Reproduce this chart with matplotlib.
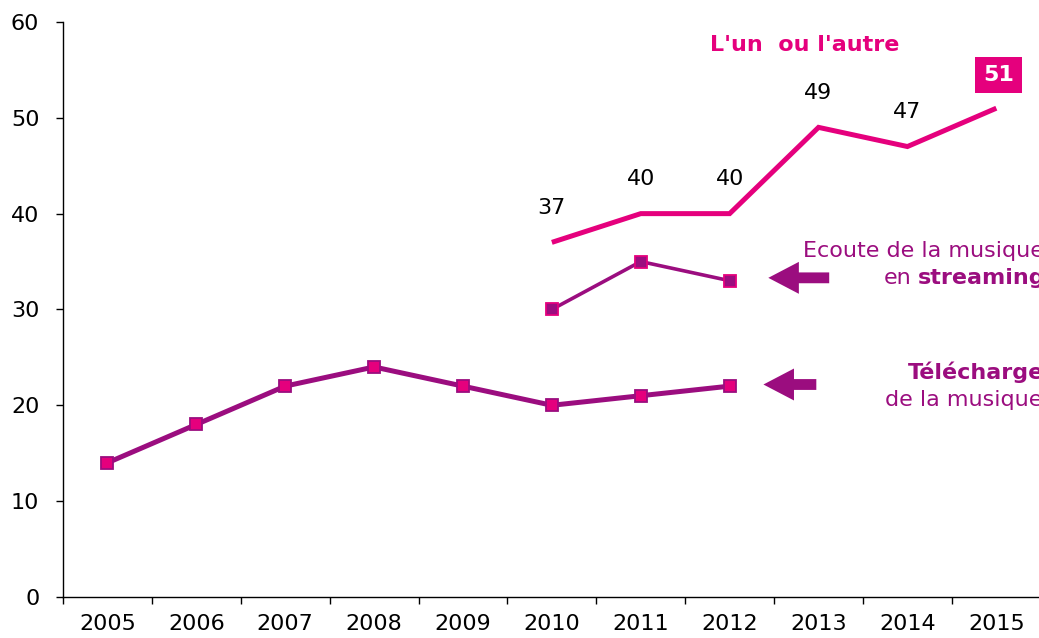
import matplotlib
matplotlib.use('Agg')
import matplotlib.pyplot as plt

PINK = '#E5007D'
PURPLE = '#9B0D7F'

years = ['2005', '2006', '2007', '2008', '2009', '2010',
         '2011', '2012', '2013', '2014', '2015']

# download series 2005-2012
telech_x = [0, 1, 2, 3, 4, 5, 6, 7]
telech = [14, 18, 22, 24, 22, 20, 21, 22]

# streaming series 2010-2012
stream_x = [5, 6, 7]
stream = [30, 35, 33]

# either one, 2010-2015
either_x = [5, 6, 7, 8, 9, 10]
either = [37, 40, 40, 49, 47, 51]

plt.rcParams['font.family'] = 'DejaVu Sans'

fig = plt.figure(figsize=(10.39, 6.38), dpi=100)
ax = fig.add_axes([0.0606, 0.0643, 0.9411, 0.9013])

ax.plot(either_x, either, color=PINK, linewidth=3.6, solid_capstyle='butt',
        solid_joinstyle='miter', zorder=3)
ax.plot(stream_x, stream, color=PURPLE, linewidth=2.6, marker='s',
        markersize=8.5, markerfacecolor=PURPLE, markeredgecolor=PINK,
        markeredgewidth=1.3, zorder=4)
ax.plot(telech_x, telech, color=PURPLE, linewidth=3.6, marker='s',
        markersize=8.5, markerfacecolor=PINK, markeredgecolor=PURPLE,
        markeredgewidth=1.3, zorder=4)

# value labels above the "either" line (last one in a box)
for x, v in zip(either_x[:-1], either[:-1]):
    ax.annotate(str(v), (x, v), xytext=(0, 25), textcoords='offset points',
                ha='center', va='center', fontsize=16, color='black')
ax.annotate(str(either[-1]), (either_x[-1], either[-1]), xytext=(1.5, 24),
            textcoords='offset points', ha='center', va='center',
            fontsize=16, fontweight='bold', color='white',
            bbox=dict(boxstyle='square,pad=0.35', fc=PINK, ec='none'))

ax.text(6.78, 57.6, "L'un  ou l'autre", ha='left', va='center', fontsize=16,
        fontweight='bold', color=PINK)

# series captions on the right
ax.text(7.82, 35.5, 'Ecoute de la musique', ha='left', va='baseline',
        fontsize=16, color=PURPLE)
ax.text(8.73, 32.65, 'en', ha='left', va='baseline', fontsize=16,
        color=PURPLE)
ax.text(9.12, 32.65, 'streaming', ha='left', va='baseline', fontsize=16,
        fontweight='bold', color=PURPLE)
ax.text(9.0, 22.7, 'Téléchargement', ha='left', va='baseline',
        fontsize=16, fontweight='bold', color=PURPLE)
ax.text(8.75, 19.9, 'de la musique', ha='left', va='baseline',
        fontsize=16, color=PURPLE)

# fat arrows pointing at the line ends
arrow_style = 'simple,head_length=22,head_width=23,tail_width=7.8'
ax.annotate('', xy=(7.435, 33.3), xytext=(8.12, 33.3),
            arrowprops=dict(arrowstyle=arrow_style, mutation_scale=1,
                            fc=PURPLE, ec='none', shrinkA=0, shrinkB=0))
ax.annotate('', xy=(7.38, 22.17), xytext=(7.975, 22.17),
            arrowprops=dict(arrowstyle=arrow_style, mutation_scale=1,
                            fc=PURPLE, ec='none', shrinkA=0, shrinkB=0))

ax.set_xlim(-0.5, 10.5)
ax.set_ylim(0, 60)
ax.set_yticks(range(0, 61, 10))
ax.set_xticks([i - 0.5 for i in range(12)])
ax.set_xticklabels([])
ax.set_xticks(range(len(years)), minor=True)
ax.set_xticklabels(years, minor=True)

ax.tick_params(axis='y', length=5, width=1, pad=12, labelsize=16)
ax.tick_params(axis='x', which='major', length=5, width=1)
ax.tick_params(axis='x', which='minor', length=0, pad=12, labelsize=16)

for side in ['top', 'right']:
    ax.spines[side].set_visible(False)
for side in ['left', 'bottom']:
    ax.spines[side].set_linewidth(1)

fig.savefig('out.png', dpi=100)
